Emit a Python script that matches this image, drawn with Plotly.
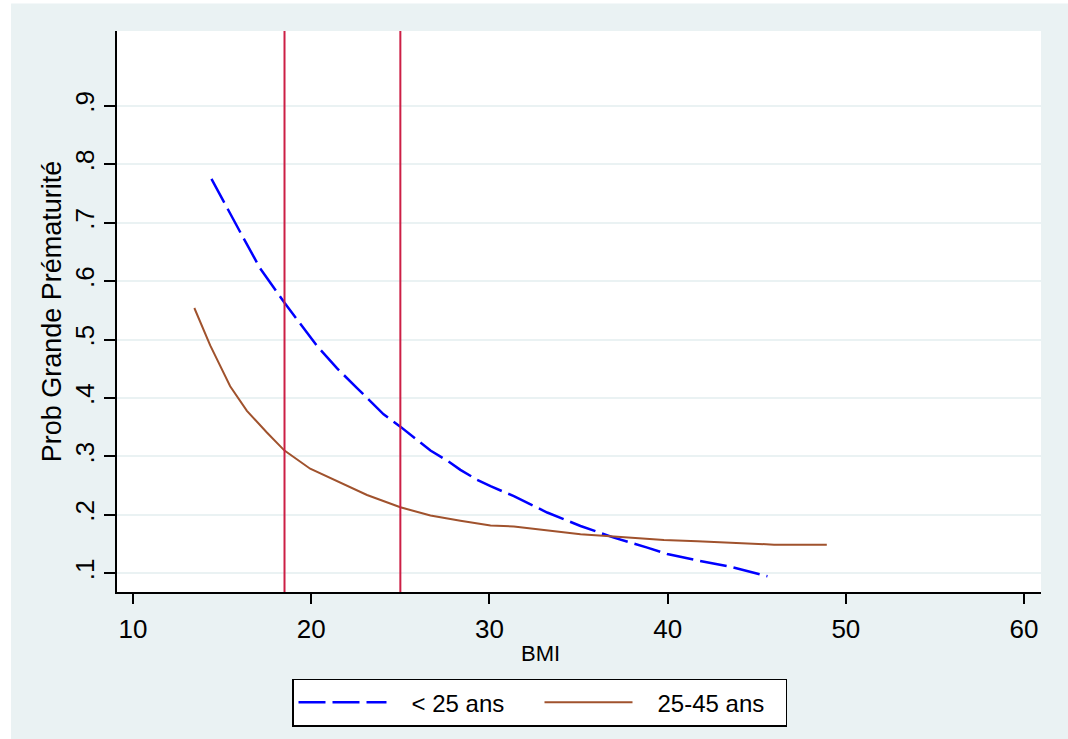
import plotly.graph_objects as go

# ---- data ----
bmi_young = [14.4, 15.45, 16.1, 17.13, 18.5, 20.3, 21.44, 22.57, 24.06, 25.0, 26.69, 27.62,
             28.37, 29.31, 30.06, 31.37, 33.24, 35.11, 36.98, 38.86, 39.98, 41.67, 43.54, 45.6]
prob_young = [0.775, 0.715, 0.679, 0.622, 0.563, 0.490, 0.451, 0.417, 0.372, 0.351, 0.310, 0.293,
              0.277, 0.260, 0.249, 0.232, 0.204, 0.181, 0.161, 0.144, 0.133, 0.122, 0.111, 0.095]

bmi_adult = [13.44, 14.33, 15.45, 16.39, 17.51, 18.5, 19.94, 21.25, 23.13, 25.0, 26.69, 28.37,
             30.06, 31.37, 33.24, 35.11, 36.98, 39.79, 41.67, 45.97, 48.93]
prob_adult = [0.554, 0.490, 0.420, 0.378, 0.341, 0.310, 0.279, 0.260, 0.234, 0.213, 0.199, 0.190,
              0.182, 0.180, 0.173, 0.167, 0.163, 0.157, 0.155, 0.149, 0.149]

series_names = ["< 25 ans", "25-45 ans"]
bmi_cutoffs = [18.5, 25]
x_ticks = [10, 20, 30, 40, 50, 60]
y_ticks = [0.1, 0.2, 0.3, 0.4, 0.5, 0.6, 0.7, 0.8, 0.9]
y_tick_labels = [".1", ".2", ".3", ".4", ".5", ".6", ".7", ".8", ".9"]

FONT = "Liberation Sans, Arial, Helvetica, sans-serif"
BG = "#EAF2F3"

fig = go.Figure()
fig.add_trace(go.Scatter(x=bmi_young, y=prob_young, mode="lines", name="   " + series_names[0],
                         line=dict(color="#0000FF", width=2.5, dash="27px,7px")))
fig.add_trace(go.Scatter(x=bmi_adult, y=prob_adult, mode="lines", name="   " + series_names[1],
                         line=dict(color="#A0522D", width=2)))

for c in bmi_cutoffs:
    fig.add_vline(x=c, line=dict(color="#CC1F45", width=2), layer="above")

# light graph-region background (page has a thin white edge at top/left)
fig.add_shape(type="rect", xref="paper", yref="paper", x0=-0.1147, x1=1.05, y0=-0.3, y1=1.0492,
              fillcolor=BG, line=dict(width=0), layer="below")
fig.add_shape(type="rect", xref="paper", yref="paper", x0=0, x1=1, y0=0, y1=1,
              fillcolor="white", line=dict(width=0), layer="below")

fig.add_annotation(text="BMI", xref="paper", yref="paper", x=(540 - 117) / 924, y=(600 - 662) / 569,
                   showarrow=False, font=dict(family=FONT, size=22, color="black"),
                   xanchor="center", yanchor="middle")

fig.update_layout(
    width=1068, height=739,
    margin=dict(l=117, r=27, t=31, b=139),
    paper_bgcolor="white", plot_bgcolor="white",
    font=dict(family=FONT, color="black"),
    showlegend=True,
    legend=dict(orientation="h", x=(539.5 - 117) / 924, xanchor="center",
                y=(600 - 688) / 569, yanchor="top",
                bgcolor="white", bordercolor="black", borderwidth=1.5,
                font=dict(family=FONT, size=24, color="black"),
                itemwidth=88, entrywidth=143, entrywidthmode="pixels",
                itemclick=False),
    xaxis=dict(range=[9.1, 60.95], tickvals=x_ticks, ticks="outside", ticklen=10, tickwidth=2,
               tickcolor="black", showline=True, linecolor="black", linewidth=2,
               showgrid=False, zeroline=False, ticklabelstandoff=3,
               tickfont=dict(family=FONT, size=26, color="black")),
    yaxis=dict(range=[0.068, 1.028], tickvals=y_ticks, ticktext=y_tick_labels, tickangle=-90,
               ticks="outside", ticklen=11, tickwidth=2, tickcolor="black",
               showline=True, linecolor="black", linewidth=2,
               showgrid=True, gridcolor=BG, gridwidth=2, zeroline=False,
               tickfont=dict(family=FONT, size=26, color="black"),
               title=dict(text="Prob Grande Prématurité", standoff=0,
                          font=dict(family=FONT, size=27, color="black"))),
)

fig.write_html("out.html", config={"displayModeBar": False},
               post_script="document.body.style.margin='0px';")
